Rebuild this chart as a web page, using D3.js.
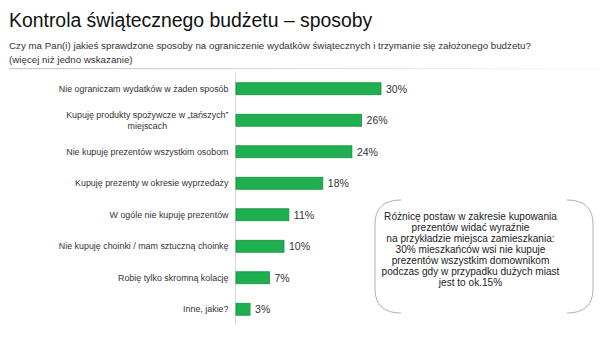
<!DOCTYPE html>
<html><head><meta charset="utf-8">
<script src="https://cdn.jsdelivr.net/npm/d3@7"></script>
<style>body{margin:0;background:#fff}svg{display:block;font-family:"Liberation Sans",Arial,sans-serif}</style>
</head><body>
<svg id="c" width="600" height="337"></svg>
<script>
const title = "Kontrola świątecznego budżetu – sposoby";
const subtitle = ["Czy ma Pan(i) jakieś sprawdzone sposoby na ograniczenie wydatków świątecznych i trzymanie się założonego budżetu?", "(więcej niż jedno wskazanie)"];
const categories = [
  ["Nie ograniczam wydatków w żaden sposób"],
  ["Kupuję produkty spożywcze w „tańszych”", "miejscach"],
  ["Nie kupuję prezentów wszystkim osobom"],
  ["Kupuję prezenty w okresie wyprzedaży"],
  ["W ogóle nie kupuję prezentów"],
  ["Nie kupuję choinki / mam sztuczną choinkę"],
  ["Robię tylko skromną kolację"],
  ["Inne, jakie?"]
];
const values = [30, 26, 24, 18, 11, 10, 7, 3];
const note = ["Różnicę postaw w zakresie kupowania", "prezentów widać wyraźnie", "na przykładzie miejsca zamieszkania:", "30% mieszkańców wsi nie kupuje", "prezentów wszystkim domownikom", "podczas gdy w przypadku dużych miast", "jest to ok.15%"];

const svg = d3.select("#c");
const defs = svg.append("defs");
const g1 = defs.append("linearGradient").attr("id","sep");
g1.append("stop").attr("offset","0").attr("stop-color","#c8c8c8");
g1.append("stop").attr("offset","0.6").attr("stop-color","#e4e4e4");
g1.append("stop").attr("offset","1").attr("stop-color","#fafafa");

svg.append("text").attr("x",9).attr("y",27).attr("font-size",19.4).attr("fill","#111").text(title);
svg.selectAll("text.sub").data(subtitle).join("text").attr("class","sub")
  .attr("x",9).attr("y",(d,i)=>49+i*13.5).attr("font-size",9.75).attr("fill","#333").text(d=>d);
svg.append("rect").attr("x",9).attr("y",68).attr("width",591).attr("height",1.2).attr("fill","url(#sep)");

const x0 = 235.5;
const x = d3.scaleLinear().domain([0,30]).range([x0, 381]);
const y = d3.scaleBand().domain(d3.range(categories.length)).range([73,325]).paddingInner(0.62).paddingOuter(0.31);

svg.append("line").attr("x1",x0).attr("x2",x0).attr("y1",73).attr("y2",325).attr("stroke","#d6d6d6").attr("stroke-width",1);

svg.selectAll("rect.bar").data(values).join("rect").attr("class","bar")
  .attr("x",x(0)+0.5).attr("y",(d,i)=>y(i)).attr("width",d=>x(d)-x(0)-0.5).attr("height",y.bandwidth())
  .attr("fill","#1fae50").attr("stroke","#16923f").attr("stroke-width",0.8);

svg.selectAll("text.val").data(values).join("text").attr("class","val")
  .attr("x",d=>x(d)+5).attr("y",(d,i)=>y(i)+y.bandwidth()/2).attr("dy","0.36em")
  .attr("font-size",10.5).attr("fill","#333").text(d=>d+"%");

const labelRight = 228.5;
const lfs = 8.9;
categories.forEach((lines,i)=>{
  const cy = y(i)+y.bandwidth()/2;
  const t = svg.append("text").attr("font-size",lfs).attr("fill","#333");
  if(lines.length===1){
    t.attr("x",labelRight).attr("y",cy).attr("dy","0.35em").attr("text-anchor","end").text(lines[0]);
  } else {
    const tmp = svg.append("text").attr("font-size",lfs).text(lines[0]);
    const w = tmp.node().getComputedTextLength(); tmp.remove();
    const cx = labelRight - w/2;
    t.attr("text-anchor","middle");
    lines.forEach((l,j)=>{
      t.append("tspan").attr("x",cx).attr("y",cy+(j-(lines.length-1)/2)*11).attr("dy","0.35em").text(l);
    });
  }
});

// note bracket box
const bx0=375, bx1=593, by0=200, by1=313, r=24;
const br = d3.path();
br.moveTo(bx0+r+2,by0); br.quadraticCurveTo(bx0,by0,bx0,by0+r); br.lineTo(bx0,by1-r); br.quadraticCurveTo(bx0,by1,bx0+r+2,by1);
br.moveTo(bx1-r-2,by0); br.quadraticCurveTo(bx1,by0,bx1,by0+r); br.lineTo(bx1,by1-r); br.quadraticCurveTo(bx1,by1,bx1-r-2,by1);
svg.append("path").attr("d",br.toString()).attr("fill","none").attr("stroke","#b0b0b0").attr("stroke-width",1);

svg.selectAll("text.note").data(note).join("text").attr("class","note")
  .attr("x",470.5).attr("y",(d,i)=>216.5+i*11.05).attr("dy","0.35em").attr("text-anchor","middle")
  .attr("font-size",10.1).attr("fill","#222").text(d=>d);
</script>
</body></html>
